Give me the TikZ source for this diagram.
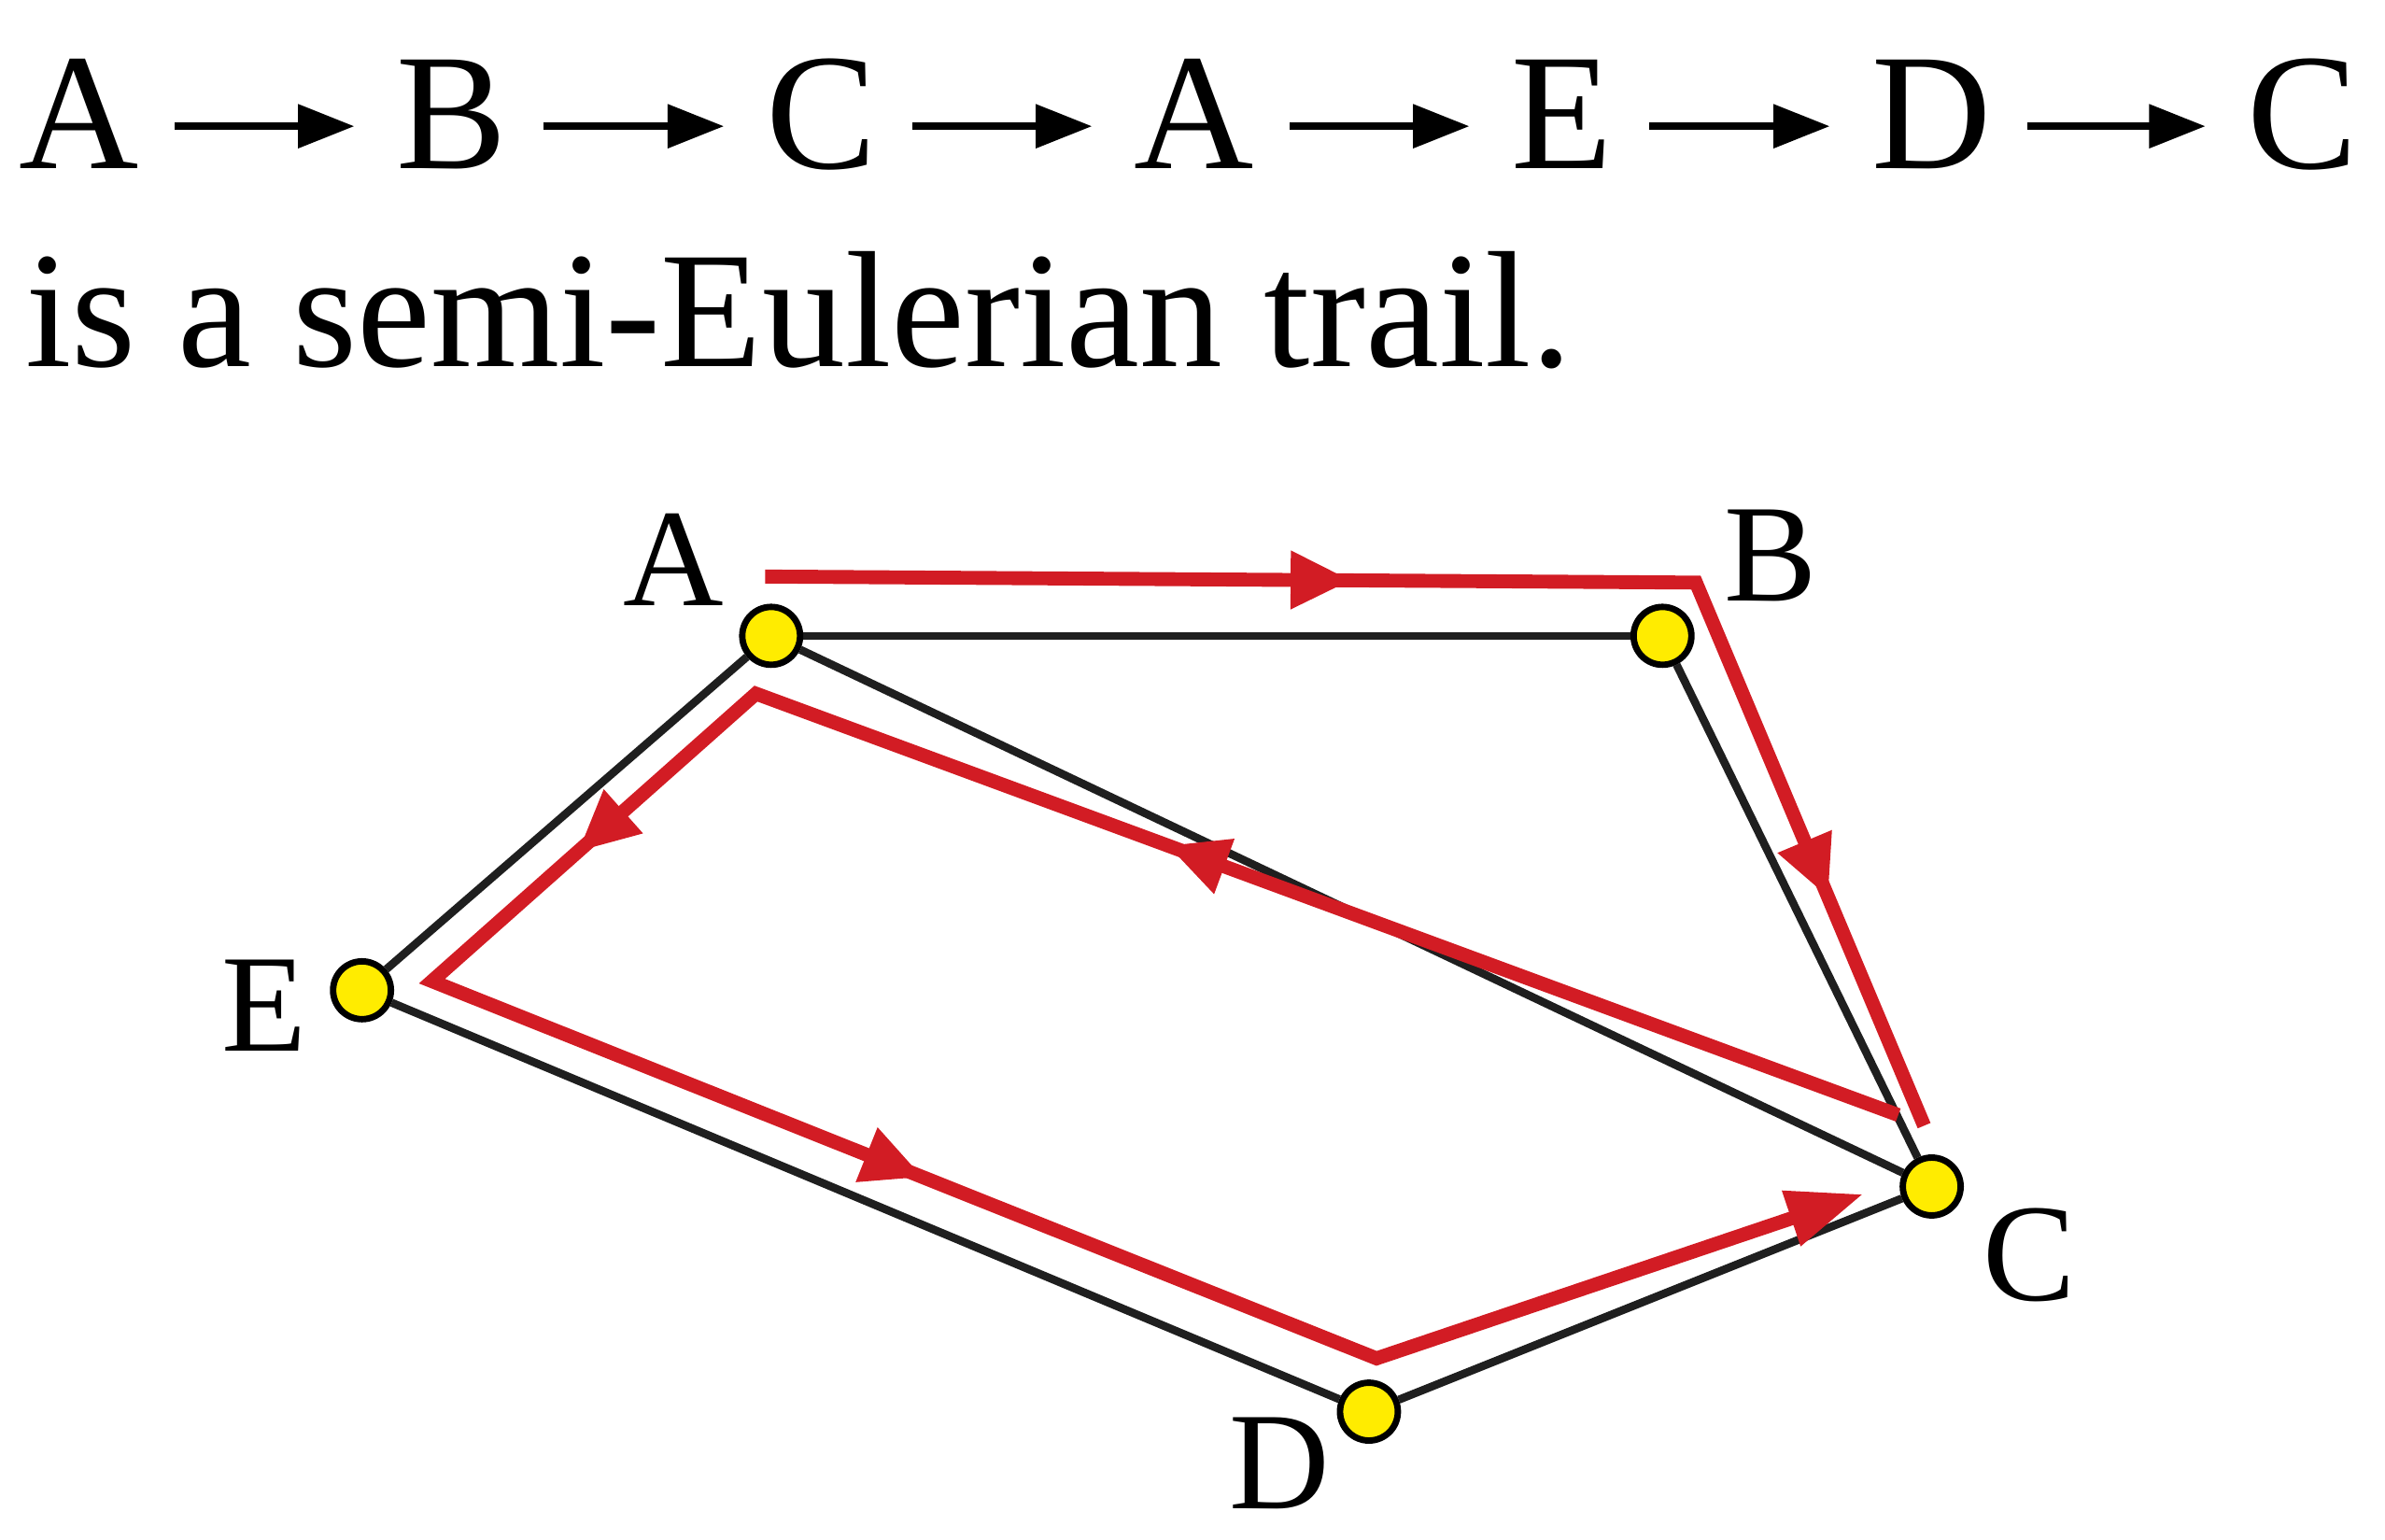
\documentclass[tikz,border=0pt]{standalone}
\usepackage{fontspec}
\setmainfont{Liberation Serif}
\usetikzlibrary{arrows.meta,decorations.markings,backgrounds}
\definecolor{cred}{RGB}{210,28,36}
\definecolor{cyellow}{RGB}{255,236,0}

\begin{document}
\begin{tikzpicture}[x=0.01cm, y=-0.01cm,
      seq/.style={anchor=base, inner sep=0pt, font=\fontsize{31}{37}\selectfont},
      seqarrow/.style={-{Triangle[length=3.7mm,width=2.8mm]}, line width=1.3pt,
                       shorten <=2.3mm, shorten >=2.7mm},
      vertex/.style={circle, draw=black, line width=1.2pt, fill=cyellow,
                     minimum size=3.8mm, inner sep=0pt},
      vlabel/.style={inner sep=0pt, font=\fontsize{26}{30}\selectfont},
      edge/.style={line width=1.5pt, black!88},
      trail/.style={cred, line width=2.6pt},
      midarrow/.style={postaction={decorate}, decoration={markings,
                       mark=at position #1 with {\arrow{Triangle[length=4mm,width=3.6mm]}}}}
    ]
    \useasboundingbox (0,0) rectangle (1568,1012);

    % the trail written out
    \foreach \x/\n/\t in {52/s1/A, 297/s2/B, 540/s3/C, 785/s4/A, 1027/s5/E, 1270/s6/D, 1514/s7/C}
      \node[seq] (\n) at (\x,111) {\t};
    \foreach \a/\b in {s1/s2, s2/s3, s3/s4, s4/s5, s5/s6, s6/s7}
      \draw[seqarrow] ([yshift=0.28cm]\a.base east) -- ([yshift=0.28cm]\b.base west);
    \node[anchor=base west, inner sep=0pt, font=\fontsize{31}{37}\selectfont] (cap) at (16,241)
      {is a semi-Eulerian trail.};

    % graph
    \node[vertex] (A) at (507,418) {};
    \node[vertex] (B) at (1093,418) {};
    \node[vertex] (C) at (1270,780) {};
    \node[vertex] (D) at (900,928) {};
    \node[vertex] (E) at (238,651) {};

    \node[vlabel] (labA) at (443,368) {A};
    \node[vlabel] (labB) at (1164,365) {B};
    \node[vlabel] (labC) at (1334,825) {C};
    \node[vlabel] (labD) at (841,962) {D};
    \node[vlabel] (labE) at (174,661) {E};

    % corners of the red trail
    \coordinate (r0) at (503,379);
    \coordinate (rB) at (1115,383);
    \coordinate (r1) at (1265,740);
    \coordinate (r2) at (1248,733);
    \coordinate (rA) at (497,456);
    \coordinate (rE) at (284,645);
    \coordinate (rD) at (905,893);
    \coordinate (r3) at (1225,785);

    \begin{scope}[on background layer]
      \draw[edge] (A) -- (B);
      \draw[edge] (A) -- (C);
      \draw[edge] (A) -- (E);
      \draw[edge] (B) -- (C);
      \draw[edge] (E) -- (D);
      \draw[edge] (D) -- (C);

      \draw[trail] (r0) -- (rB) -- (r1);
      \draw[trail, -{Triangle[length=5mm,width=3.6mm]}] (r2) -- (rA) -- (rE) -- (rD) -- (r3);
      \path[trail, midarrow=0.63] (r0) -- (rB);
      \path[trail, midarrow=0.58] (rB) -- (r1);
      \path[trail, midarrow=0.64] (r2) -- (rA);
      \path[trail, midarrow=0.55] (rA) -- (rE);
      \path[trail, midarrow=0.52] (rE) -- (rD);
    \end{scope}
  \end{tikzpicture}
\end{document}
